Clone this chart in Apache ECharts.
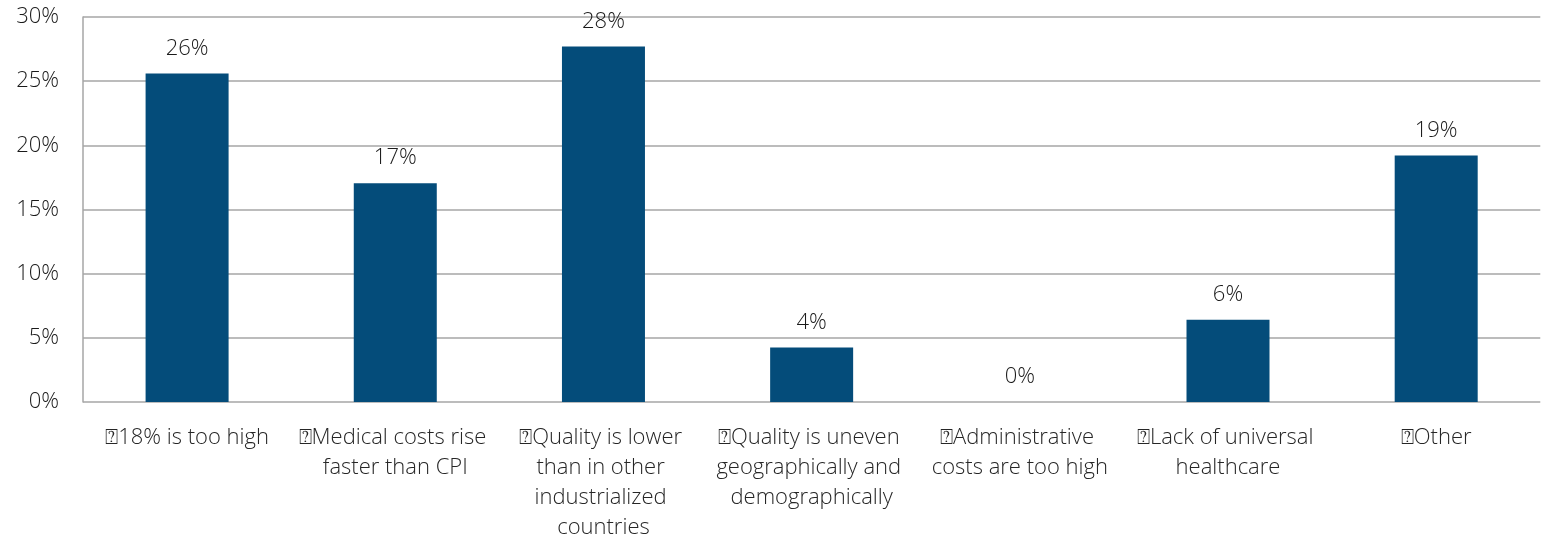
<!DOCTYPE html>
<html>
<head>
<meta charset="utf-8">
<script src="https://cdn.jsdelivr.net/npm/echarts@6/dist/echarts.min.js"></script>
<style>
html,body{margin:0;padding:0;background:#fff;}
#c{width:1543px;height:546px;}
</style>
</head>
<body>
<div id="c"></div>
<script>
const categories = [
  "\u237018% is too high",
  "\u2370Medical costs rise faster than CPI",
  "\u2370Quality is lower than in other industrialized countries",
  "\u2370Quality is uneven geographically and demographically",
  "\u2370Administrative costs are too high",
  "\u2370Lack of universal healthcare",
  "\u2370Other"
];
const values = [25.6, 17.05, 27.7, 4.25, 0, 6.4, 19.2];
const yTicks = [0, 5, 10, 15, 20, 25, 30];

const chart = echarts.init(document.getElementById('c'));
const FONT = '"Open Sans", sans-serif';
chart.setOption({
  animation: false,
  grid: {left: 83, right: 0, top: 17, bottom: 144, containLabel: false},
  xAxis: {
    type: 'category',
    data: categories,
    axisLine: {show: false},
    axisTick: {show: false},
    axisLabel: {
      interval: 0,
      margin: 21,
      color: '#262626',
      fontFamily: FONT,
      fontWeight: 300,
      fontSize: 22,
      lineHeight: 30,
      width: 208,
      overflow: 'break',
      align: 'center'
    }
  },
  yAxis: {
    type: 'value',
    min: yTicks[0],
    max: yTicks[yTicks.length - 1],
    interval: 5,
    axisLine: {show: true, lineStyle: {color: '#A6A6A6', width: 1.5}},
    axisTick: {show: false},
    splitLine: {lineStyle: {color: '#A6A6A6', width: 1.5}},
    axisLabel: {
      formatter: v => v + '%',
      color: '#1a1a1a',
      fontFamily: FONT,
      fontWeight: 300,
      fontSize: 22,
      margin: 24
    }
  },
  series: [{
    type: 'bar',
    data: values,
    barWidth: 83,
    itemStyle: {color: '#044C7A'},
    label: {
      show: true,
      position: 'top',
      distance: 14,
      formatter: p => Math.round(p.value) + '%',
      color: '#1a1a1a',
      fontFamily: FONT,
      fontWeight: 300,
      fontSize: 22
    }
  }]
});
</script>
</body>
</html>
